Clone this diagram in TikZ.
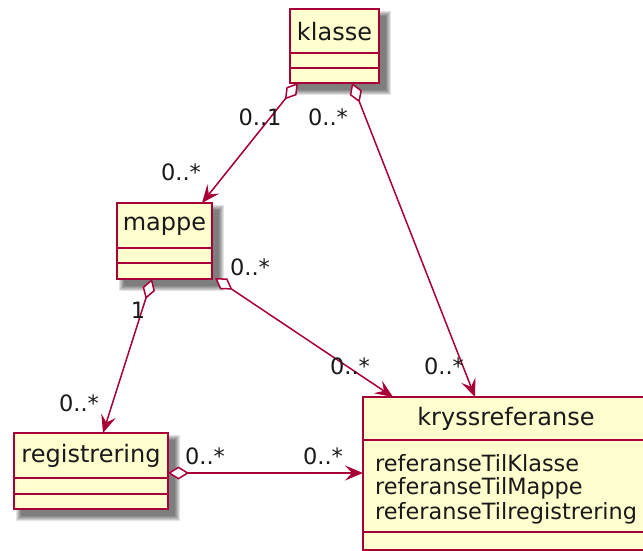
\documentclass[tikz,border=0pt]{standalone}
\usepackage{fontspec}
\setmainfont{DejaVu Sans}
\usetikzlibrary{arrows.meta}
\definecolor{umlred}{HTML}{A80036}
\definecolor{umlfill}{HTML}{FEFECE}
\tikzset{
  cls/.style={draw=umlred, fill=umlfill, line width=1.6pt, rectangle, inner sep=0pt},
  sep/.style={draw=umlred, line width=1.6pt},
  clsname/.style={font=\fontsize{24}{28}\selectfont, text=black!90, inner sep=0pt},
  attr/.style={font=\fontsize{22.4}{26}\selectfont, text=black!90, inner sep=0pt, anchor=west},
  mult/.style={font=\fontsize{22.5}{26}\selectfont, text=black!90, inner sep=0pt},
  assoc/.style={draw=umlred, line width=1.5pt,
    {Diamond[length=21pt,width=13pt,fill=white,line width=1.5pt]}-{Stealth[length=18pt,width=15pt,inset=7pt]}},
}
\newcommand{\boxshadow}[4]{%
  \foreach \k in {0,1,2,3,4,5}{
    \fill[black, opacity=0.11] (#1+7-5+\k,#2+7-5+\k) rectangle (#3+7+5-\k,#4+7+5-\k);
  }%
}
\begin{document}
\begin{tikzpicture}[x=1pt,y=-1pt]
\useasboundingbox (0,0) rectangle (643,551);
\clip (0,0) rectangle (643,551);

% soft drop shadows behind the classes
\boxshadow{290}{9}{379}{83}
\boxshadow{117}{203}{212}{279}
\boxshadow{14}{433}{168}{509}

% class boxes
\node[cls, minimum width=89pt, minimum height=74pt] (klasse) at (334.5,46) {};
\draw[sep] (290,53) -- (379,53) (290,68) -- (379,68);
\node[clsname] at (334.5,32) {klasse};

\node[cls, minimum width=95pt, minimum height=76pt] (mappe) at (164.5,241) {};
\draw[sep] (117,248) -- (212,248) (117,263) -- (212,263);
\node[clsname] at (164.5,226) {mappe};

\node[cls, minimum width=154pt, minimum height=76pt] (registrering) at (91,471) {};
\draw[sep] (14,478) -- (168,478) (14,494) -- (168,494);
\node[clsname] at (91,456) {registrering};

\node[cls, minimum width=287pt, minimum height=153pt] (kryss) at (506.5,473.5) {};
\draw[sep] (363,440) -- (650,440) (363,532) -- (650,532);
\node[clsname] at (506,419) {kryssreferanse};
\node[attr] at (375,463) {referanseTilKlasse};
\node[attr] at (375,488) {referanseTilMappe};
\node[attr] at (375,513) {referanseTilregistrering};

% connector end points on the class borders
\coordinate (kA) at (298,83);
\coordinate (kB) at (352,83);
\coordinate (mTop) at (202,203);
\coordinate (mA) at (152,279);
\coordinate (mB) at (215,278);
\coordinate (rTop) at (103,433);
\coordinate (rR) at (168,473);
\coordinate (xTopA) at (393,397);
\coordinate (xTopB) at (475,397);
\coordinate (xL) at (363,473);

% aggregations
\draw[assoc] (kA) -- (mTop);
\draw[assoc] (kB) -- (xTopB);
\draw[assoc] (mA) -- (rTop);
\draw[assoc] (mB) -- (xTopA);
\draw[assoc] (rR) -- (xL);

% multiplicities
\node[mult] at (260,117) {0..1};
\node[mult] at (328,117) {0..*};
\node[mult] at (181,172) {0..*};
\node[mult] at (250,267) {0..*};
\node[mult] at (138,310) {1};
\node[mult] at (79,403) {0..*};
\node[mult] at (350,366) {0..*};
\node[mult] at (444,366) {0..*};
\node[mult] at (205,456) {0..*};
\node[mult] at (323,456) {0..*};
\end{tikzpicture}
\end{document}
